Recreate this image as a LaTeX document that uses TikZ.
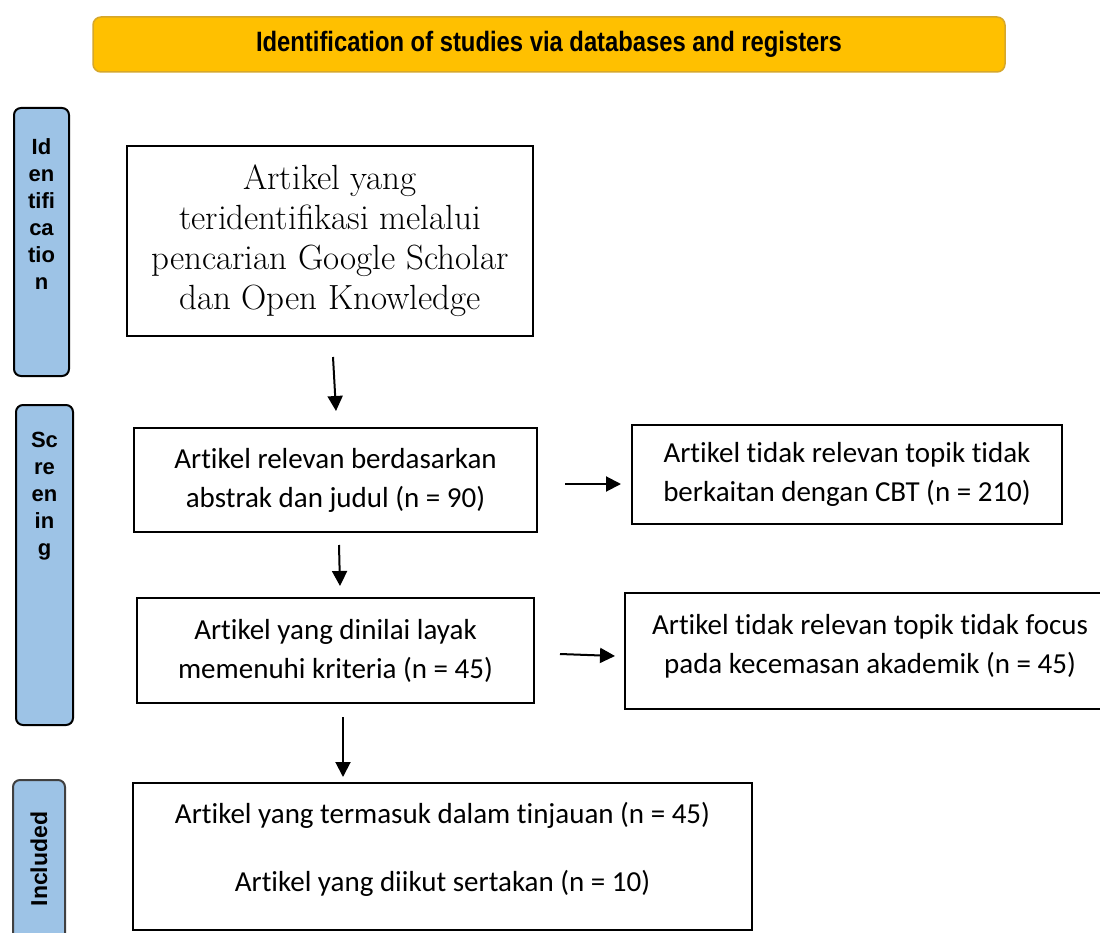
\documentclass[tikz,border=0pt]{standalone}
\usepackage{fontspec}
\usetikzlibrary{arrows.meta}
\newfontfamily\boxfont{Carlito}[Ligatures=NoCommon]
\newfontfamily\sidefont{Liberation Sans}[BoldFont={Liberation Sans Bold}]
\newfontfamily\bannerfont{Liberation Sans}[FakeStretch=0.85]
\definecolor{Gold}{HTML}{FFC000}
\definecolor{GoldEdge}{HTML}{D6A72A}
\definecolor{Blue}{HTML}{9DC3E6}

\begin{document}
\begin{tikzpicture}[x=1pt,y=-1pt,>={Triangle[length=15pt,width=15pt]},
  box/.style={draw,line width=2pt,rectangle,align=center,inner sep=0pt,
    font=\boxfont\fontsize{29}{39}\selectfont},
  side/.style={draw,line width=2pt,fill=Blue,rounded corners=7pt,inner sep=0pt},
  sidetxt/.style={align=center,inner sep=0pt,
    font=\sidefont\bfseries\fontsize{22}{27}\selectfont},
  arr/.style={->,line width=2pt}]

\useasboundingbox (0,0) rectangle (1100,933);
\clip (0,0) rectangle (1100,933);

% banner
\node[draw=GoldEdge,line width=1.5pt,fill=Gold,rounded corners=8pt,
  minimum width=912pt,minimum height=55pt,
  font=\bannerfont\bfseries\fontsize{28}{30}\selectfont] (banner) at (549,44.5)
  {Identification of studies via databases and registers};

% phase labels
\node[side,minimum width=55pt,minimum height=268pt] (idbox) at (41.5,242) {};
\node[sidetxt] (idtxt) at (41.5,214) {Id\\en\\tifi\\ca\\tio\\n};

\node[side,minimum width=57pt,minimum height=320pt] (scbox) at (44.5,565) {};
\node[sidetxt] (sctxt) at (44.5,496) {Sc\\re\\en\\in\\g};

\node[side,draw=black!75,minimum width=52pt,minimum height=170pt] (inbox) at (39,865) {};
\node[sidetxt,rotate=90,font=\sidefont\bfseries\fontsize{23}{24}\selectfont] (intxt) at (39,859) {Included};

% boxes
\node[box,minimum width=406pt,minimum height=190pt,
  font=\fontsize{35}{40}\selectfont] (b1) at (330,241)
  {Artikel yang\\teridentifikasi melalui\\pencarian Google Scholar\\dan Open Knowledge};

\node[box,minimum width=403pt,minimum height=104pt] (b2) at (335.5,480)
  {Artikel relevan berdasarkan\\abstrak dan judul (n = 90)};
\node[box,minimum width=430pt,minimum height=99pt] (b3) at (847,474.5)
  {Artikel tidak relevan topik tidak\\berkaitan dengan CBT (n = 210)};

\node[box,minimum width=397pt,minimum height=105pt] (b4) at (335.5,650.5)
  {Artikel yang dinilai layak\\memenuhi kriteria (n = 45)};
\node[box,minimum width=490pt,minimum height=116pt] (b5) at (870,651) {};
\node[box,draw=none] (b5txt) at (870,646)
  {Artikel tidak relevan topik tidak focus\\pada kecemasan akademik (n = 45)};

\node[box,minimum width=619pt,minimum height=147pt] (b6) at (442.5,856.5) {};
\node[box,draw=none] (b6txt) at (442.5,849)
  {Artikel yang termasuk dalam tinjauan (n = 45)\\[29pt]Artikel yang diikut sertakan (n = 10)};

% arrow ends
\coordinate (a1s) at (333,357);
\coordinate (a1e) at (336,411);
\coordinate (a2s) at (339,545);
\coordinate (a2e) at (340,586);
\coordinate (a3s) at (343,717);
\coordinate (a3e) at (343,777);
\coordinate (h1s) at (565,484);
\coordinate (h1e) at (621,484);
\coordinate (h2s) at (560,654);
\coordinate (h2e) at (615,656);

\draw[arr] (a1s) -- (a1e);
\draw[arr] (a2s) -- (a2e);
\draw[arr] (a3s) -- (a3e);
\draw[arr] (h1s) -- (h1e);
\draw[arr] (h2s) -- (h2e);

\end{tikzpicture}
\end{document}
